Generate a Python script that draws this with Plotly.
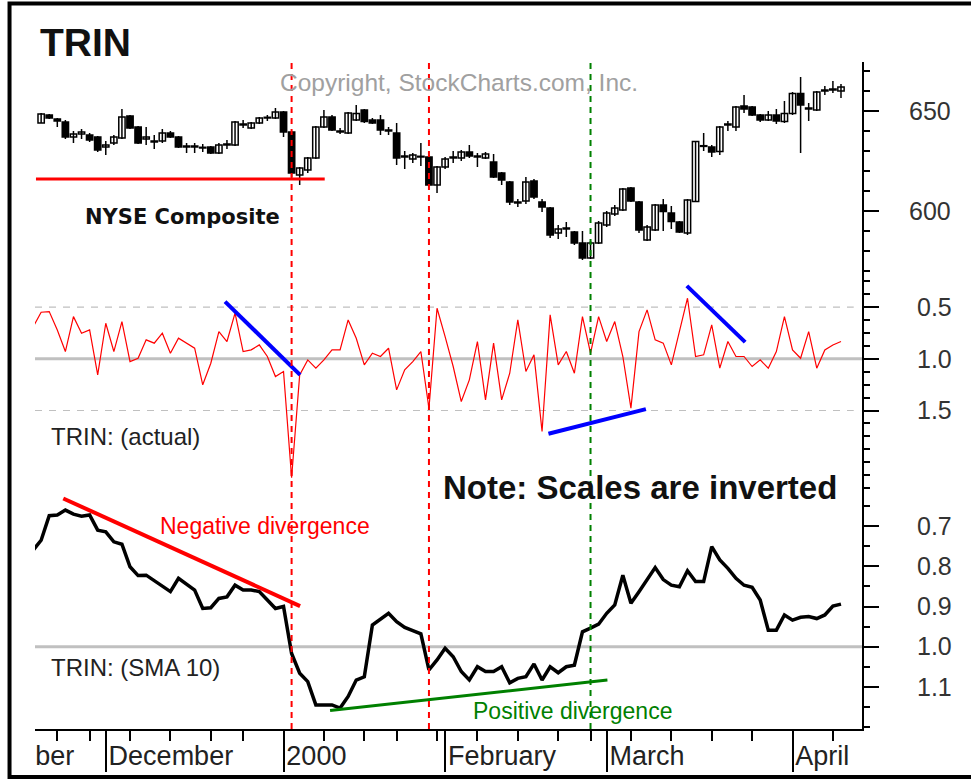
import plotly.graph_objects as go
import pandas as pd

# ---------------- data ----------------
HOLIDAYS = ["1999-11-25", "1999-12-24", "2000-01-17", "2000-02-21"]
dates = pd.bdate_range("1999-11-17", "2000-04-11", freq="C", holidays=HOLIDAYS)
day_idx = list(range(-1, len(dates) - 1))          # trading-day positions (-1 .. 99)
price_idx = day_idx[1:]                             # candles start 18 Nov 1999

price_open = [644, 648, 646, 644.5, 637, 638.5, 638, 637, 632, 634,
              636.5, 647.5, 642, 636, 635, 635, 639, 637, 632, 632.5,
              631.5, 632, 629, 633, 633, 643.5, 641.5, 644, 646.5, 646.5,
              649.5, 639.5, 618, 620.5, 626.5, 642, 647, 640, 639, 645.5,
              650.5, 645.5, 645.5, 640.5, 639, 627.5, 626, 627, 627, 613,
              622, 626.5, 626.5, 629.5, 627.5, 626.5, 624.5, 619, 614.5, 604.5,
              605, 615, 604.5, 601.5, 589, 591, 589.5, 584, 576.5, 584,
              593, 598.5, 600.5, 611.5, 604.5, 585.5, 590.5, 603, 599, 594.5,
              589, 604.7, 632.5, 632, 629.7, 643, 642, 652.5, 652, 648,
              645.5, 648, 644.7, 648.8, 658.8, 651, 650.5, 660, 660.5, 660]
price_high = [649, 648.5, 646.5, 645.5, 640, 641, 639, 637.5, 635, 638,
              651, 648, 642.5, 642, 638, 641, 640, 637.5, 634, 634,
              633.5, 632.5, 634, 635.5, 645, 645.5, 644.5, 647, 648, 651.5,
              650, 640, 622, 627, 642.5, 650.5, 648, 641.5, 649.5, 653,
              651, 646.5, 648, 642, 644, 630, 629, 634, 628, 622.5,
              627, 630, 630.5, 633, 629, 629.5, 628.5, 619.5, 615, 606,
              617, 616, 606, 602, 593, 594.5, 590, 590, 585, 595,
              600, 603, 611.5, 612, 605, 593, 603.5, 606, 602.5, 595,
              606, 635, 639, 633, 642.5, 645, 652.5, 658, 652.5, 648.5,
              650, 651, 655, 659.5, 667, 654, 660, 662.5, 665, 663.5]
price_low = [644, 646, 642, 636, 634, 636, 634.5, 629.5, 628, 633,
             636, 641, 633.5, 633, 631, 634, 636.5, 631.5, 629, 629,
             629.5, 628.5, 628.5, 631, 632.5, 641.5, 641, 643.5, 645, 646,
             637, 617, 613, 619, 626, 641.5, 640, 638.5, 638.5, 645,
             644, 643.5, 638, 638, 623, 621, 624, 622.5, 612.5, 609,
             621, 624, 625, 626.5, 622, 626, 616.5, 613, 603, 602,
             603.5, 606, 599.5, 586.5, 586, 587, 583, 575.5, 576, 583.5,
             592, 597.5, 600, 604.5, 589, 585, 590, 590, 591, 589,
             588, 604.5, 630, 627, 628, 640, 640, 649, 647.5, 644.5,
             645, 643.5, 644, 648, 629, 645, 650, 658, 659, 656.5]
price_close = [648.5, 646.5, 645, 637, 638.5, 639.5, 635.5, 630.5, 633, 637,
               647, 641.5, 634, 637, 634.5, 639, 637, 632, 632.5, 632,
               631.8, 629, 633, 633.5, 644.5, 643, 644, 646.5, 646.8, 649.5,
               639.5, 619, 621.5, 626.5, 642, 647, 640.5, 639.5, 649, 648.8,
               644.7, 644, 640.5, 640, 626.5, 627, 628, 627.3, 613, 622,
               626, 627, 629.5, 627.5, 627, 628.5, 617, 615.5, 604.5, 604,
               614.5, 607, 602, 588, 591, 591.5, 584, 576.5, 584, 594,
               599, 601.5, 611, 605, 590.5, 592, 603, 599.7, 594.7, 589.5,
               605.5, 634.7, 632.3, 629.5, 642, 643.5, 652, 651, 648, 645.5,
               648, 645, 648.8, 658.8, 653, 651.5, 659.5, 660.5, 661, 662]

trin_actual = [0.693, 0.549, 0.542, 0.72, 0.929, 0.591, 0.752, 0.72, 1.155, 0.655,
               0.929, 0.639, 1.026, 0.994, 0.816, 0.848, 0.752, 0.945, 0.80, 0.848,
               0.897, 1.251, 1.042, 0.736, 0.832, 0.558, 0.929, 0.913, 0.865, 0.977,
               1.171, 1.122, 2.15, 1.155, 1.01, 1.09, 1.01, 0.913, 0.913, 0.623,
               0.80, 1.058, 0.945, 0.977, 0.897, 1.30, 1.106, 1.026, 0.929, 1.48,
               0.51, 0.784, 1.074, 1.413, 1.203, 0.832, 1.397, 0.848, 1.397, 1.139,
               0.623, 1.122, 0.961, 1.703, 0.574, 1.058, 0.929, 1.139, 0.591, 0.945,
               0.591, 0.832, 0.639, 0.977, 1.477, 0.736, 0.526, 0.816, 0.848, 1.058,
               0.72, 0.413, 0.977, 0.961, 0.671, 1.09, 0.832, 0.977, 0.977, 1.074,
               1.01, 1.09, 0.929, 0.591, 0.913, 0.994, 0.736, 1.09, 0.913, 0.865,
               0.832]
trin_sma10 = [0.760, 0.735, 0.674, 0.672, 0.660, 0.670, 0.675, 0.672, 0.710, 0.714,
              0.739, 0.745, 0.801, 0.823, 0.822, 0.836, 0.849, 0.863, 0.830, 0.844,
              0.859, 0.905, 0.903, 0.880, 0.876, 0.847, 0.859, 0.859, 0.863, 0.884,
              0.905, 0.900, 1.017, 1.066, 1.087, 1.145, 1.145, 1.145, 1.153, 1.124,
              1.083, 1.075, 0.946, 0.932, 0.917, 0.938, 0.952, 0.960, 0.968, 1.058,
              1.033, 1.004, 1.025, 1.062, 1.083, 1.050, 1.062, 1.062, 1.050, 1.090,
              1.079, 1.075, 1.043, 1.083, 1.050, 1.065, 1.050, 1.046, 0.963, 0.954,
              0.944, 0.917, 0.896, 0.822, 0.892, 0.863, 0.834, 0.803, 0.833, 0.847,
              0.851, 0.811, 0.838, 0.838, 0.751, 0.784, 0.805, 0.830, 0.847, 0.852,
              0.884, 0.959, 0.959, 0.921, 0.934, 0.927, 0.925, 0.930, 0.921, 0.899,
              0.894]

# hand-drawn trend lines (trading-day position, value)
support_x, support_y = [-0.64, 35.1], [616, 616]
trin_neg1_x, trin_neg1_y = [22.76, 32.05], [0.446, 1.155]
trin_pos_x, trin_pos_y = [62.79, 74.85], [1.725, 1.486]
trin_neg2_x, trin_neg2_y = [79.92, 87.14], [0.294, 0.838]
sma_neg_x, sma_neg_y = [2.74, 32.05], [0.631, 0.899]
sma_pos_x, sma_pos_y = [35.76, 70.09], [1.159, 1.083]

event_idx = [31, 48, 68]
event_colors = ["#ff0000", "#ff0000", "#008000"]

price_ticks = [600, 650]
trin_ticks = [0.5, 1.0, 1.5]
sma_ticks = [0.7, 0.8, 0.9, 1.0, 1.1]

month_names = {12: "December", 1: "2000", 2: "February", 3: "March", 4: "April"}

# ---------------- tick positions from the trading calendar ----------------
s = pd.Series(day_idx, index=dates)
month_starts = [int(v) for v in s.groupby([dates.year, dates.month]).first().values if v >= 0]
month_starts = [m for m in month_starts if dates[m + 1].month != 11]
iso = dates.isocalendar()
week_starts = [int(v) for v in s.groupby([iso.year.values, iso.week.values]).first().values]
week_starts = [w for w in week_starts if w > 0 and w not in month_starts]

X_RANGE = [-0.76, 101.6]
label_pos = [X_RANGE[0] + 0.02] + [m + 0.35 for m in month_starts]
label_text = ["ber"] + [month_names[dates[m + 1].month] for m in month_starts]

# ---------------- figure ----------------
fig = go.Figure()

# candles: whiskers first, bodies on top
wx, wy = [], []
for i, hi, lo in zip(price_idx, price_high, price_low):
    wx += [i, i, None]
    wy += [lo, hi, None]
fig.add_trace(go.Scatter(x=wx, y=wy, xaxis="x", yaxis="y3", mode="lines",
                         line=dict(color="black", width=1.5), showlegend=False))
body_base = [min(o, c) for o, c in zip(price_open, price_close)]
body_len = [max(abs(c - o), 0.35) for o, c in zip(price_open, price_close)]
body_fill = ["white" if c >= o else "black" for o, c in zip(price_open, price_close)]
fig.add_trace(go.Bar(x=price_idx, y=body_len, base=body_base, xaxis="x", yaxis="y3",
                     width=0.78, marker=dict(color=body_fill, line=dict(color="black", width=1.5)),
                     showlegend=False))

fig.add_trace(go.Scatter(x=support_x, y=support_y, xaxis="x", yaxis="y3", mode="lines",
                         line=dict(color="#ff0000", width=3), showlegend=False))

fig.add_trace(go.Scatter(x=day_idx, y=trin_actual, xaxis="x", yaxis="y2", mode="lines",
                         line=dict(color="#ff0000", width=1.2), showlegend=False))
for tx, ty in [(trin_neg1_x, trin_neg1_y), (trin_pos_x, trin_pos_y), (trin_neg2_x, trin_neg2_y)]:
    fig.add_trace(go.Scatter(x=tx, y=ty, xaxis="x", yaxis="y2", mode="lines",
                             line=dict(color="#0000ff", width=4), showlegend=False))

fig.add_trace(go.Scatter(x=day_idx, y=trin_sma10, xaxis="x", yaxis="y", mode="lines",
                         line=dict(color="black", width=3.5), showlegend=False))
fig.add_trace(go.Scatter(x=sma_neg_x, y=sma_neg_y, xaxis="x", yaxis="y", mode="lines",
                         line=dict(color="#ff0000", width=4), showlegend=False))
fig.add_trace(go.Scatter(x=sma_pos_x, y=sma_pos_y, xaxis="x", yaxis="y", mode="lines",
                         line=dict(color="#008000", width=3), showlegend=False))
# anchor trace for the month-label axis
fig.add_trace(go.Scatter(x=label_pos, y=[None] * len(label_pos), xaxis="x2", yaxis="y",
                         mode="lines", showlegend=False))

TICKFONT = dict(family="Liberation Sans", size=25, color="#333333")
common_y = dict(anchor="x", side="right", showline=True, linecolor="black", linewidth=2,
                ticks="outside", ticklen=15, tickwidth=2, tickcolor="black",
                showgrid=False, zeroline=False, tickfont=TICKFONT, tickmode="array")

shapes = []
for lvl in trin_ticks:
    if lvl == 1.0:
        shapes.append(dict(type="line", xref="paper", x0=0, x1=1, yref="y2", y0=lvl, y1=lvl,
                           line=dict(color="#c0c0c0", width=3), layer="below"))
    else:
        shapes.append(dict(type="line", xref="paper", x0=0, x1=0.99, yref="y2", y0=lvl, y1=lvl,
                           line=dict(color="#c0c0c0", width=1.2, dash="7px,7px"), layer="below"))
shapes.append(dict(type="line", xref="paper", x0=0, x1=1, yref="y", y0=1.0, y1=1.0,
                   line=dict(color="#c0c0c0", width=3), layer="below"))
for ix, col in zip(event_idx, event_colors):
    shapes.append(dict(type="line", xref="x", x0=ix, x1=ix, yref="paper", y0=0, y1=1,
                       line=dict(color=col, width=2, dash="6px,5px"), layer="above"))
shapes.append(dict(type="rect", xref="paper", yref="paper", x0=-0.0308, x1=1.2, y0=-0.072, y1=1.0877,
                   line=dict(color="black", width=4)))

def ann(text, x, y, size, color="#222222", bold=False, family="Liberation Sans"):
    return dict(text=text, xref="paper", yref="paper", x=x, y=y, xanchor="left", yanchor="middle",
                showarrow=False, font=dict(family=family, size=size, color=color,
                                           weight="bold" if bold else "normal"))

annotations = [
    ann("TRIN", 0.0036, 1.0285, 39, "#111111", True),
    ann("Copyright, StockCharts.com, Inc.", 0.2935, 0.970, 24.5, "#a0a0a0"),
    ann("NYSE Composite", 0.058, 0.7676, 21, "#111111", True, "DejaVu Sans"),
    ann("TRIN: (actual)", 0.0169, 0.4378, 24),
    ann("Note: Scales are inverted", 0.4910, 0.3628, 33, "#111111", True),
    ann("Negative divergence", 0.1487, 0.3043, 23, "#ff0000"),
    ann("TRIN: (SMA 10)", 0.0169, 0.0915, 24),
    ann("Positive divergence", 0.5272, 0.027, 23, "#008000"),
]

fig.update_layout(
    width=971, height=780,
    margin=dict(l=35, r=109, t=62, b=51, autoexpand=False),
    paper_bgcolor="white", plot_bgcolor="white",
    showlegend=False, hovermode=False, barmode="overlay",
    xaxis=dict(domain=[0, 1], range=X_RANGE, anchor="y", showline=True, linecolor="black",
               linewidth=2, ticks="outside", ticklen=41, tickwidth=2, tickcolor="black",
               tickmode="array", tickvals=month_starts, showticklabels=False,
               showgrid=False, zeroline=False,
               minor=dict(tickmode="array", tickvals=week_starts, ticks="outside",
                          ticklen=10, tickwidth=2, tickcolor="black", showgrid=False)),
    xaxis2=dict(overlaying="x", anchor="y", range=X_RANGE, tickmode="array",
                tickvals=label_pos, ticktext=label_text, ticks="", showline=False,
                showgrid=False, zeroline=False, ticklabelposition="outside right",
                tickangle=0, ticklabelstandoff=8,
                tickfont=dict(family="Liberation Sans", size=27, color="#222222")),
    yaxis=dict(domain=[0, 0.3613], range=[1.205, 0.605], tickvals=sma_ticks,
               ticktext=["%.1f" % v for v in sma_ticks], ticklabelstandoff=33,
               minor=dict(tickmode="linear", tick0=0, dtick=0.05, ticks="outside", ticklen=6,
                          tickwidth=2, tickcolor="black"), **common_y),
    yaxis2=dict(domain=[0.3613, 0.6762], range=[2.25, 0.217], tickvals=trin_ticks,
                ticktext=["%.1f" % v for v in trin_ticks], ticklabelstandoff=33,
                minor=dict(tickmode="linear", tick0=0, dtick=0.125, ticks="outside", ticklen=6,
                           tickwidth=2, tickcolor="black"), **common_y),
    yaxis3=dict(domain=[0.6762, 1], range=[566.5, 674.5], tickvals=price_ticks,
                ticktext=[str(v) for v in price_ticks], ticklabelstandoff=25,
                minor=dict(tickmode="linear", tick0=0, dtick=10, ticks="outside", ticklen=6,
                           tickwidth=2, tickcolor="black"), **common_y),
    shapes=shapes,
    annotations=annotations,
)

fig.write_html("out.html", config={"displayModeBar": False},
               post_script="document.body.style.margin='0px';")
